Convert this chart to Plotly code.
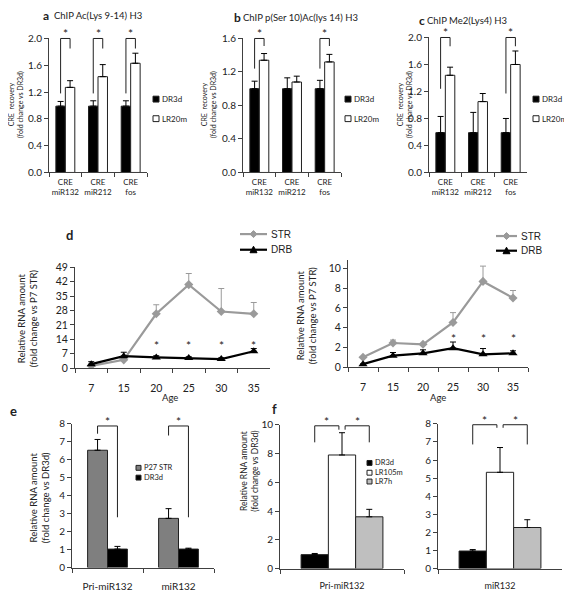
import plotly.graph_objects as go

# the page has an 8px body margin: figure is 564x592 placed at (8, 8)
OFF = 8
W, H = 572 - OFF, 600 - OFF
FONT = "Lato"
AX = "#404040"


def px(x):
    return (x - OFF) / W


def py(y):
    return 1 - (y - OFF) / H


# ---------------- DATA ----------------
chip_cats = ["CRE<br>miR132", "CRE<br>miR212", "CRE<br>fos"]

a_dr3d = [0.99, 0.99, 0.99]
a_dr3d_err = [0.07, 0.08, 0.08]
a_lr20m = [1.27, 1.43, 1.63]
a_lr20m_err = [0.10, 0.18, 0.15]

b_dr3d = [1.0, 1.0, 1.0]
b_dr3d_err = [0.09, 0.13, 0.10]
b_lr20m = [1.34, 1.08, 1.32]
b_lr20m_err = [0.08, 0.07, 0.09]

c_dr3d = [0.59, 0.59, 0.59]
c_dr3d_err = [0.24, 0.30, 0.21]
c_lr20m = [1.44, 1.05, 1.60]
c_lr20m_err = [0.12, 0.12, 0.20]

ages = ["7", "15", "20", "25", "30", "35"]
dl_str = [1.1, 4.0, 26.4, 40.6, 27.5, 26.4]
dl_str_err = [0.0, 0.5, 4.4, 5.4, 11.2, 5.5]
dl_drb = [1.9, 5.8, 5.2, 4.9, 4.4, 8.2]
dl_drb_err = [1.2, 1.9, 0.8, 0.6, 0.6, 1.3]
dl_star_ages = ["20", "25", "30", "35"]
dl_star_level = 11.8

dr_str = [1.0, 2.44, 2.31, 4.52, 8.68, 7.0]
dr_str_err = [0.0, 0.3, 0.0, 1.0, 1.55, 0.76]
dr_drb = [0.3, 1.16, 1.39, 1.91, 1.29, 1.39]
dr_drb_err = [0.0, 0.32, 0.36, 0.63, 0.59, 0.26]
dr_star_ages = ["25", "30", "35"]
dr_star_level = 3.14

e_cats = ["Pri-miR132", "miR132"]
e_p27 = [6.53, 2.74]
e_p27_err = [0.6, 0.54]
e_dr3d = [1.03, 1.03]
e_dr3d_err = [0.15, 0.05]

fl_cat = ["Pri-miR132"]
fr_cat = ["miR132"]
fl_dr3d, fl_dr3d_err = [0.97], [0.08]
fl_lr105, fl_lr105_err = [7.9], [1.55]
fl_lr7h, fl_lr7h_err = [3.6], [0.52]
fr_dr3d, fr_dr3d_err = [0.97], [0.08]
fr_lr105, fr_lr105_err = [5.32], [1.37]
fr_lr7h, fr_lr7h_err = [2.27], [0.43]

# significance brackets: (top, left-leg bottom, right-leg bottom)
a_brk = [(2.0, 1.18, 1.85), (2.0, 1.18, 1.85), (2.0, 1.18, 1.85)]
b_brk = {0: (1.6, 1.24, 1.51), 2: (1.6, 1.24, 1.51)}
c_brk = {0: (2.0, 1.24, 1.87), 2: (2.0, 1.17, 1.87)}
e_brk = [(7.88, 7.45, 2.8), (7.88, 7.35, 2.8)]
fl_brk = (9.93, 8.78, 9.66)
fr_brk = (7.95, 6.86, 7.78)

fig = go.Figure()
shapes = []
annos = []


def err(vals, color="black"):
    return dict(type="data", symmetric=False, array=vals, arrayminus=[0] * len(vals),
                color=color, thickness=1, width=3)


def add_bars(xa, ya, cats, series, w):
    n = len(series)
    for i, (name, vals, errs, color) in enumerate(series):
        fig.add_trace(go.Bar(
            x=cats, y=vals, name=name, xaxis=xa, yaxis=ya, showlegend=False,
            offset=-n * w / 2 + i * w, width=w,
            marker=dict(color=color, line=dict(color="#202020", width=1)),
            error_y=err(errs)))


def axes(idx, xd, yd, ncat, yrange, dtick, tfs, tickformat=None, xfs=8, xstand=0):
    xk = "xaxis" if idx == 1 else f"xaxis{idx}"
    yk = "yaxis" if idx == 1 else f"yaxis{idx}"
    ya = "y" if idx == 1 else f"y{idx}"
    xa = "x" if idx == 1 else f"x{idx}"
    fig.layout[xk] = dict(domain=[px(xd[0]), px(xd[1])], anchor=ya, type="category",
                          range=[-0.5, ncat - 0.5], tickangle=0,
                          showline=True, linecolor=AX, linewidth=1, ticks="outside",
                          tickson="boundaries", ticklen=4, tickcolor=AX, showgrid=False,
                          zeroline=False, tickfont=dict(family=FONT, size=xfs, color="#222"),
                          ticklabelstandoff=xstand, fixedrange=True)
    fig.layout[yk] = dict(domain=[py(yd[1]), py(yd[0])], anchor=xa, range=yrange,
                          dtick=dtick, tick0=0, showline=True, linecolor=AX, linewidth=1,
                          ticks="outside", ticklen=4, tickcolor=AX, showgrid=False,
                          zeroline=False, tickformat=tickformat,
                          tickfont=dict(family=FONT, size=tfs, color="#222"), fixedrange=True)


def bracket(axn, n, ymax, xl, xr, top, bl, br, star=True):
    xr_ = f"x{axn} domain" if axn > 1 else "x domain"
    yr_ = f"y{axn} domain" if axn > 1 else "y domain"
    fx = lambda c: (c + 0.5) / n
    fy = lambda v: v / ymax
    for (x0, y0, x1, y1) in [(xl, bl, xl, top), (xl, top, xr, top), (xr, top, xr, br)]:
        shapes.append(dict(type="line", xref=xr_, yref=yr_, x0=fx(x0), x1=fx(x1),
                           y0=fy(y0), y1=fy(y1), line=dict(color="#202020", width=1)))
    if star:
        annos.append(dict(text="*", xref=xr_, yref=yr_, x=fx((xl + xr) / 2), y=fy(top),
                          xanchor="center", yanchor="bottom", yshift=-5, showarrow=False,
                          font=dict(family=FONT, size=12, color="#202020")))


def text(t, x, y, size, anchor="left", angle=0, family=FONT, color="#222"):
    annos.append(dict(text=t, xref="paper", yref="paper", x=px(x), y=py(y), xanchor=anchor,
                      yanchor="middle", showarrow=False, textangle=angle,
                      font=dict(family=family, size=size, color=color)))


def bar_legend(items, x, ys, size=6, fs=8):
    for (name, color), y in zip(items, ys):
        shapes.append(dict(type="rect", xref="paper", yref="paper", x0=px(x), x1=px(x + size),
                           y0=py(y + size / 2), y1=py(y - size / 2), fillcolor=color,
                           line=dict(color="#202020", width=1)))
        text(name, x + size + 1, y, fs)


def line_legend(items, x0, x1, ys, fs=10):
    for (name, color, path), y in zip(items, ys):
        shapes.append(dict(type="line", xref="paper", yref="paper", x0=px(x0), x1=px(x1),
                           y0=py(y), y1=py(y), line=dict(color=color, width=2.2)))
        shapes.append(dict(type="path", xref="paper", yref="paper", xsizemode="pixel",
                           ysizemode="pixel", xanchor=px((x0 + x1) / 2), yanchor=py(y),
                           path=path, fillcolor=color, line=dict(color=color, width=1)))
        text(name, x1 + 2, y, fs, family="Liberation Sans")


W_CHIP = 0.29
# ---- a, b, c ----
chip = [
    (1, (49, 147), (32, 169), [0, 2.0], 0.4, a_dr3d, a_dr3d_err, a_lr20m, a_lr20m_err,
     dict(enumerate(a_brk))),
    (2, (243, 341), (32, 169), [0, 1.6], 0.4, b_dr3d, b_dr3d_err, b_lr20m, b_lr20m_err, b_brk),
    (3, (429, 527), (31, 169), [0, 2.0], 0.4, c_dr3d, c_dr3d_err, c_lr20m, c_lr20m_err, c_brk),
]
for idx, xd, yd, yr, dt, d1, e1, d2, e2, brk in chip:
    xa = "x" if idx == 1 else f"x{idx}"
    ya = "y" if idx == 1 else f"y{idx}"
    add_bars(xa, ya, chip_cats, [("DR3d", d1, e1, "black"), ("LR20m", d2, e2, "white")], W_CHIP)
    axes(idx, xd, yd, 3, yr, dt, 10, tickformat=".1f", xfs=8, xstand=2)
    for ci, (top, bl, br) in brk.items():
        bracket(idx, 3, yr[1], ci - W_CHIP / 2, ci + W_CHIP / 2, top, bl, br)

# titles
text("<b>a</b>", 41, 9, 12)
text("ChIP Ac(Lys 9-14) H3", 52, 9, 9.5)
text("<b>b</b>", 232, 11, 12)
text("ChIP p(Ser 10)Ac(lys 14) H3", 241, 11, 9.5)
text("<b>c</b>", 417, 14, 12)
text("ChIP Me2(Lys4) H3", 425, 14, 9.5)
for xc in (16, 209, 405):
    text("CRE  recovery<br>(fold change vs DR3d)", xc, 100, 7, anchor="center", angle=-90)
for xl in (153, 345, 533):
    bar_legend([("DR3d", "black"), ("LR20m", "white")], xl, [94, 114])

# ---- d ----
GRAY = "#9a9a9a"
for idx, xd, yd, yr, dt, s, se, d, de, sa, sl in [
        (4, (75, 270), (266, 369), [0, 49], 7, dl_str, dl_str_err, dl_drb, dl_drb_err,
         dl_star_ages, dl_star_level),
        (5, (348, 528), (258, 368), [0, 10.9], 2, dr_str, dr_str_err, dr_drb, dr_drb_err,
         dr_star_ages, dr_star_level)]:
    xa, ya = f"x{idx}", f"y{idx}"
    fig.add_trace(go.Scatter(x=ages, y=s, name="STR", xaxis=xa, yaxis=ya, mode="lines+markers",
                             line=dict(color=GRAY, width=2.2), showlegend=False,
                             marker=dict(symbol="diamond", size=7, color=GRAY),
                             error_y=err(se, GRAY)))
    fig.add_trace(go.Scatter(x=ages, y=d, name="DRB", xaxis=xa, yaxis=ya, mode="lines+markers",
                             line=dict(color="black", width=2.2), showlegend=False,
                             marker=dict(symbol="triangle-up", size=8, color="black"),
                             error_y=err(de)))
    axes(idx, xd, yd, len(ages), yr, dt, 10.5, xfs=10.5, xstand=10)
    for a_ in sa:
        annos.append(dict(text="*", xref=xa, yref=ya, x=ages.index(a_), y=sl, showarrow=False,
                          xanchor="center", yanchor="middle", yshift=-2,
                          font=dict(family=FONT, size=12, color="#202020")))

DIAMOND = "M0,-3.5 L3.5,0 L0,3.5 L-3.5,0 Z"
TRI = "M-3.5,-3 L3.5,-3 L0,3.5 Z"
line_legend([("STR", GRAY, DIAMOND), ("DRB", "black", TRI)], 240, 267, [232, 248])
line_legend([("STR", GRAY, DIAMOND), ("DRB", "black", TRI)], 496, 517, [234, 249])

text("<b>d</b>", 64, 233, 13)
text("Relative RNA amount<br>(fold change vs P7 STR)", 27, 318, 9.5, anchor="center", angle=-90)
text("Relative RNA amount<br>(fold change vs P7 STR)", 306, 315, 9.5, anchor="center", angle=-90)
text("Age", 170, 399, 9.5, anchor="center")
text("Age", 438, 399, 9.5, anchor="center")

# ---- e ----
W_E = 0.28
add_bars("x6", "y6", e_cats, [("P27 STR", e_p27, e_p27_err, "#7f7f7f"),
                             ("DR3d", e_dr3d, e_dr3d_err, "black")], W_E)
axes(6, (72, 214), (426, 573), 2, [0, 8], 1, 10, xfs=10, xstand=9)
for ci, (top, bl, br) in enumerate(e_brk):
    bracket(6, 2, 8, ci - W_E / 2, ci + W_E / 2, top, bl, br)
text("<b>e</b>", 8, 413, 13)
text("Relative RNA amount<br>(fold change vs DR3d)", 39, 502, 9.5, anchor="center", angle=-90)
bar_legend([("P27 STR", "#7f7f7f"), ("DR3d", "black")], 136, [471, 481], size=5, fs=7.5)

# ---- f ----
W_F = 0.22
GAP = 0.025
for idx, xd, yd, yr, cat, d1, e1, d2, e2, d3, e3, brk in [
        (7, (280, 404), (427, 574), [0, 10], fl_cat, fl_dr3d, fl_dr3d_err, fl_lr105,
         fl_lr105_err, fl_lr7h, fl_lr7h_err, fl_brk),
        (8, (438, 562), (426, 574), [0, 8], fr_cat, fr_dr3d, fr_dr3d_err, fr_lr105,
         fr_lr105_err, fr_lr7h, fr_lr7h_err, fr_brk)]:
    add_bars(f"x{idx}", f"y{idx}", cat, [("DR3d", d1, e1, "black"), ("LR105m", d2, e2, "white"),
                                         ("LR7h", d3, e3, "#bfbfbf")], W_F)
    axes(idx, xd, yd, 1, yr, 2 if yr[1] == 10 else 1, 10, xfs=9, xstand=9)
    top, outer, inner = brk
    bracket(idx, 1, yr[1], -W_F, -GAP, top, outer, inner)
    bracket(idx, 1, yr[1], GAP, W_F, top, inner, outer)

text("<b>f</b>", 270, 411, 13)
text("Relative RNA amount<br>(fold change vs DR3d)", 250, 475, 8.5, anchor="center", angle=-90)
bar_legend([("DR3d", "black"), ("LR105m", "white"), ("LR7h", "#bfbfbf")], 367, [466, 476, 485],
           size=5, fs=7.5)

fig.update_layout(
    width=W, height=H, autosize=False, margin=dict(l=0, r=0, t=0, b=0),
    paper_bgcolor="white", plot_bgcolor="white", barmode="overlay",
    showlegend=False,
    shapes=shapes, annotations=annos,
    font=dict(family=FONT, color="#222"),
)

fig.write_html("out.html")
